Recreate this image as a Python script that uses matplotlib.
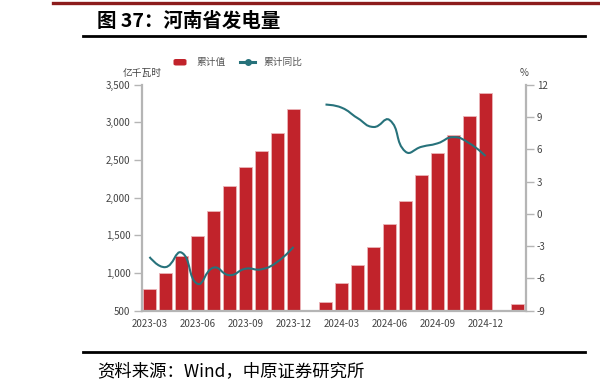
import numpy as np
import matplotlib
matplotlib.use("Agg")
import matplotlib.pyplot as plt
from matplotlib.patches import FancyBboxPatch
from matplotlib.lines import Line2D
from matplotlib.path import Path
from matplotlib.patches import PathPatch

plt.rcParams['font.family'] = ['Noto Sans CJK SC', 'DejaVu Sans']

# ---------------- data ----------------
months = ["2023-03", "2023-04", "2023-05", "2023-06", "2023-07", "2023-08",
          "2023-09", "2023-10", "2023-11", "2023-12", "2024-01", "2024-02",
          "2024-03", "2024-04", "2024-05", "2024-06", "2024-07", "2024-08",
          "2024-09", "2024-10", "2024-11", "2024-12", "2025-01", "2025-02"]
cum_value = [790, 1000, 1230, 1495, 1830, 2150, 2405, 2620, 2860, 3180,
             np.nan, 612, 868, 1107, 1346, 1648, 1957, 2302,
             2592, 2835, 3088, 3395, np.nan, 595]
cum_yoy = [-4.0, -4.95, -3.6, -6.5, -5.0, -5.7, -5.1, -5.15, -4.45, -3.07,
           np.nan, 10.15, 9.87, 8.9, 8.07, 8.72, 5.78, 6.23,
           6.55, 7.13, 6.55, 5.37, np.nan, np.nan]
tick_labels = ["2023-03", "2023-06", "2023-09", "2023-12",
               "2024-03", "2024-06", "2024-09", "2024-12"]
left_ticks = [500, 1000, 1500, 2000, 2500, 3000, 3500]
right_ticks = [-9, -6, -3, 0, 3, 6, 9, 12]

bar_color = '#C1232B'
line_color = '#27727B'
axis_color = '#b5b5b5'
text_color = '#444444'

W, H = 600, 389
fig = plt.figure(figsize=(W / 100, H / 100), dpi=100)

def fx(px):
    return px / W

def fy(py):
    return 1 - py / H

ax = fig.add_axes([fx(141.5), fy(310.7), fx(525.5) - fx(141.5), fy(84.7) - fy(310.7)])
ax2 = ax.twinx()

x = np.arange(len(months))
ax.bar(x, cum_value, width=0.8, color=bar_color, edgecolor='#eab4b8', linewidth=0.6, zorder=2)
ax.set_xlim(-0.5, len(months) - 0.5)
ax.set_ylim(500, 3500)
ax.set_yticks(left_ticks)
ax.set_yticklabels([f"{v:,}" for v in left_ticks])
ax2.set_ylim(-9, 12)
ax2.set_yticks(right_ticks)
ax2.set_yticklabels([str(v) for v in right_ticks])

tick_pos = [months.index(t) for t in tick_labels]
ax.set_xticks(tick_pos)
ax.set_xticklabels(tick_labels)

for a in (ax, ax2):
    for s in a.spines.values():
        s.set_visible(False)
ax.spines['left'].set_visible(True)
ax.spines['bottom'].set_visible(True)
ax2.spines['right'].set_visible(True)
for s in (ax.spines['left'], ax.spines['bottom'], ax2.spines['right']):
    s.set_color(axis_color)
    s.set_linewidth(1.6)

ax.tick_params(axis='y', length=6, width=1.0, color=axis_color, labelsize=7,
               labelcolor=text_color, pad=2)
ax.tick_params(axis='x', length=0, labelsize=7, labelcolor=text_color, pad=6)
ax2.tick_params(axis='y', length=6, width=1.0, color=axis_color, labelsize=7,
                labelcolor=text_color, pad=2)

# smooth line (ECharts-like bezier smoothing), computed in display space
fig.canvas.draw()
yoy = np.array(cum_yoy, dtype=float)
valid = ~np.isnan(yoy)
segments = []
cur = []
for i in range(len(yoy)):
    if valid[i]:
        cur.append(i)
    else:
        if cur:
            segments.append(cur)
        cur = []
if cur:
    segments.append(cur)

smooth = 0.5
inv = ax2.transData.inverted()
for seg in segments:
    if len(seg) < 2:
        continue
    pts = ax2.transData.transform(np.column_stack([x[seg], yoy[seg]]))
    n = len(pts)
    verts = [pts[0]]
    codes = [Path.MOVETO]
    cps_out = []
    cps_in = []
    for i in range(n):
        p = pts[i]
        if i == 0 or i == n - 1:
            cps_in.append(p)
            cps_out.append(p)
            continue
        prev, nxt = pts[i - 1], pts[i + 1]
        v = nxt - prev
        d0 = np.hypot(*(p - prev))
        d1 = np.hypot(*(nxt - p))
        tot = d0 + d1
        cps_in.append(p - v * smooth * d0 / tot)
        cps_out.append(p + v * smooth * d1 / tot)
    for i in range(n - 1):
        verts += [cps_out[i], cps_in[i + 1], pts[i + 1]]
        codes += [Path.CURVE4] * 3
    verts = inv.transform(np.array(verts))
    path = Path(verts, codes)
    ax2.add_patch(PathPatch(path, facecolor='none', edgecolor=line_color,
                            linewidth=1.5, zorder=3))

# axis unit labels
fig.text(fx(142), fy(73), "亿千瓦时", fontsize=7, color=text_color, ha='center', va='center')
fig.text(fx(524), fy(73), "%", fontsize=7, color=text_color, ha='center', va='center')

# legend
fig.patches.append(FancyBboxPatch((fx(173.5), fy(65.5)), fx(13), fy(59) - fy(65.5),
                                  boxstyle="round,pad=0,rounding_size=0.004",
                                  transform=fig.transFigure, facecolor=bar_color,
                                  edgecolor='none'))
fig.text(fx(196), fy(62), "累计值", fontsize=7, color='#555555', ha='left', va='center')
fig.add_artist(Line2D([fx(240), fx(255)], [fy(62), fy(62)], transform=fig.transFigure,
                      color=line_color, linewidth=2.2))
fig.add_artist(Line2D([fx(247.5)], [fy(62)], transform=fig.transFigure, marker='o',
                      markersize=4, color=line_color))
fig.text(fx(263), fy(62), "累计同比", fontsize=7, color='#555555', ha='left', va='center')

# header / footer decorations
fig.add_artist(Line2D([fx(53), fx(600)], [fy(2.7), fy(2.7)], transform=fig.transFigure,
                      color='#8c1c1c', linewidth=2.4))
fig.text(fx(97), fy(21.5), "图 37：河南省发电量", fontsize=14, fontweight='bold',
         color='black', ha='left', va='center')
fig.add_artist(Line2D([fx(83), fx(585)], [fy(36), fy(36)], transform=fig.transFigure,
                      color='black', linewidth=2.0))
fig.add_artist(Line2D([fx(83), fx(585)], [fy(351.5), fy(351.5)], transform=fig.transFigure,
                      color='black', linewidth=2.0))
fig.text(fx(97), fy(371.5), "资料来源：Wind，中原证券研究所", fontsize=12.5,
         color='black', ha='left', va='center')

fig.savefig("out.png", dpi=100)
